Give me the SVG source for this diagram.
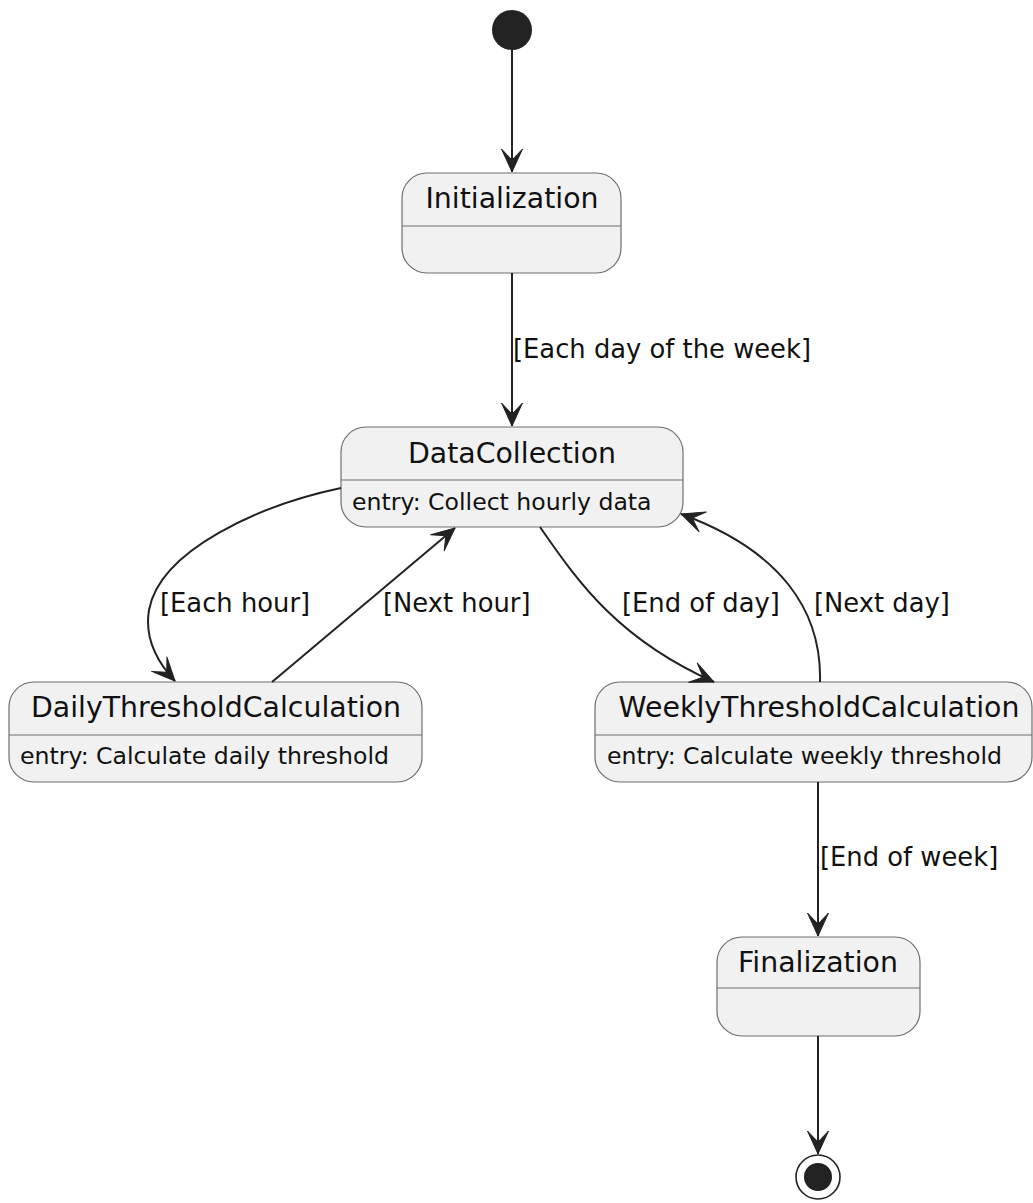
<svg xmlns="http://www.w3.org/2000/svg" width="1033" height="1203" viewBox="0 0 1033 1203">
  <defs>
    <style>
      .state rect { fill: #F1F1F1; stroke: #6e6e6e; stroke-width: 1.2; }
      .state line { stroke: #6e6e6e; stroke-width: 1.2; }
      .name { font-family: "DejaVu Sans", sans-serif; font-size: 28.4px; fill: #111; text-anchor: middle; }
      .body { font-family: "DejaVu Sans", sans-serif; font-size: 23.6px; fill: #111; }
      .label { font-family: "DejaVu Sans", sans-serif; font-size: 25.8px; fill: #111; }
      .edge { fill: none; stroke: #222222; stroke-width: 2; marker-end: url(#arrow); }
    </style>
    <marker id="arrow" markerUnits="userSpaceOnUse" markerWidth="30" markerHeight="28" viewBox="-27 -14 30 28" refX="0" refY="0" orient="auto">
      <path d="M0,0 L-23,-10.5 L-12,0 L-23,10.5 Z" fill="#222222" stroke="#222222" stroke-width="1" stroke-linejoin="round"/>
    </marker>
  </defs>

  <!-- initial pseudo-state -->
  <g id="start">
    <circle cx="512" cy="30" r="20" fill="#222222"/>
  </g>

  <g id="Initialization" class="state">
    <rect x="402" y="173" width="219" height="100" rx="25" ry="25"/>
    <line x1="402" y1="226" x2="621" y2="226"/>
    <text class="name" x="512" y="208">Initialization</text>
  </g>

  <g id="DataCollection" class="state">
    <rect x="341" y="427" width="342" height="100" rx="25" ry="25"/>
    <line x1="341" y1="480" x2="683" y2="480"/>
    <text class="name" x="512" y="463">DataCollection</text>
    <text class="body" x="352" y="510">entry: Collect hourly data</text>
  </g>

  <g id="DailyThresholdCalculation" class="state">
    <rect x="9" y="682" width="413" height="100" rx="25" ry="25"/>
    <line x1="9" y1="735" x2="422" y2="735"/>
    <text class="name" x="216" y="717">DailyThresholdCalculation</text>
    <text class="body" x="20" y="764">entry: Calculate daily threshold</text>
  </g>

  <g id="WeeklyThresholdCalculation" class="state">
    <rect x="595" y="682" width="437" height="100" rx="25" ry="25"/>
    <line x1="595" y1="735" x2="1032" y2="735"/>
    <text class="name" x="819" y="717">WeeklyThresholdCalculation</text>
    <text class="body" x="607" y="764">entry: Calculate weekly threshold</text>
  </g>

  <g id="Finalization" class="state">
    <rect x="717" y="937" width="203" height="99" rx="25" ry="25"/>
    <line x1="717" y1="988" x2="920" y2="988"/>
    <text class="name" x="818" y="972">Finalization</text>
  </g>

  <!-- final pseudo-state -->
  <g id="end">
    <circle cx="818" cy="1177" r="22" fill="none" stroke="#222222" stroke-width="1.6"/>
    <circle cx="818" cy="1177" r="14" fill="#222222"/>
  </g>

  <g id="connectors">
    <path class="edge" d="M512,50 L512,172"/>
    <path class="edge" d="M512,273 L512,426"/>
    <text class="label" x="513" y="358">[Each day of the week]</text>

    <path class="edge" d="M341,488 C260,505 160,550 149,610 C144,640 160,665 175,681"/>
    <text class="label" x="160" y="612">[Each hour]</text>

    <path class="edge" d="M272,682 L455,528"/>
    <text class="label" x="383" y="612">[Next hour]</text>

    <path class="edge" d="M540,527 C580,585 620,640 714,682"/>
    <text class="label" x="622" y="612">[End of day]</text>

    <path class="edge" d="M820,682 C822,610 780,550 681,514"/>
    <text class="label" x="814" y="612">[Next day]</text>

    <path class="edge" d="M818,782 L818,936"/>
    <text class="label" x="820" y="866">[End of week]</text>

    <path class="edge" d="M818,1036 L818,1154"/>
  </g>
</svg>
